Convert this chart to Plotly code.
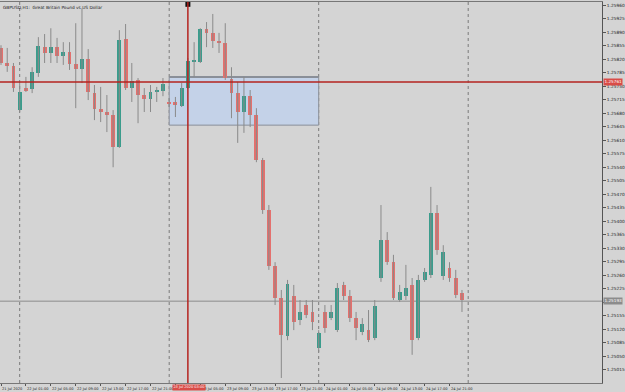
import plotly.graph_objects as go

# ---- data (GBPUSD H1, bars from 21 Jul 21:00) ----
opens = [1.25849,1.25810,1.25802,1.25688,1.25745,1.25743,1.25784,1.25851,1.25836,1.25851,
         1.25828,1.25838,1.25807,1.25794,1.25820,1.25732,1.25691,1.25683,1.25675,1.25592,
         1.25872,1.25745,1.25766,1.25727,1.25717,1.25735,1.25737,1.25709,1.25709,1.25698,
         1.25745,1.25815,1.25812,1.25898,1.25888,1.25867,1.25862,1.25768,1.25732,1.25683,
         1.25724,1.25675,1.25559,1.25429,1.25284,1.25201,1.25103,1.25207,1.25144,1.25183,
         1.25165,1.25072,1.25165,1.25149,1.25118,1.25235,1.25207,1.25149,1.25113,1.25118,
         1.25097,1.25253,1.25351,1.25294,1.25196,1.25207,1.25235,1.25097,1.25248,1.25261,
         1.25421,1.25258,1.25279,1.25253,1.25214]
highs = [1.25856,1.25849,1.25810,1.25758,1.25774,1.25799,1.25877,1.25885,1.25900,1.25875,
         1.25864,1.25864,1.25913,1.25952,1.25846,1.25753,1.25748,1.25727,1.25688,1.25895,
         1.25911,1.25810,1.25771,1.25745,1.25753,1.25748,1.25771,1.25719,1.25722,1.25758,
         1.25823,1.25864,1.25900,1.25916,1.25937,1.25888,1.25913,1.25799,1.25761,1.25774,
         1.25740,1.25693,1.25564,1.25442,1.25294,1.25222,1.25248,1.25235,1.25196,1.25196,
         1.25196,1.25118,1.25183,1.25183,1.25240,1.25243,1.25222,1.25165,1.25149,1.25170,
         1.25196,1.25442,1.25372,1.25313,1.25235,1.25287,1.25253,1.25261,1.25279,1.25489,
         1.25442,1.25338,1.25294,1.25274,1.25222]
lows  = [1.25805,1.25787,1.25735,1.25683,1.25735,1.25732,1.25774,1.25810,1.25810,1.25810,
         1.25805,1.25792,1.25693,1.25758,1.25714,1.25662,1.25657,1.25631,1.25540,1.25590,
         1.25740,1.25709,1.25654,1.25683,1.25683,1.25709,1.25724,1.25696,1.25670,1.25696,
         1.25743,1.25774,1.25810,1.25851,1.25849,1.25836,1.25766,1.25667,1.25603,1.25629,
         1.25644,1.25553,1.25419,1.25274,1.25183,1.24994,1.25092,1.25118,1.25131,1.25149,
         1.25118,1.25061,1.25111,1.25144,1.25113,1.25196,1.25139,1.25092,1.25105,1.25087,
         1.25092,1.25243,1.25287,1.25196,1.25191,1.25196,1.25054,1.25092,1.25243,1.25253,
         1.25313,1.25248,1.25243,1.25201,1.25165]
closes = [1.25810,1.25802,1.25745,1.25735,1.25740,1.25787,1.25854,1.25836,1.25851,1.25828,
          1.25838,1.25807,1.25794,1.25820,1.25735,1.25691,1.25683,1.25675,1.25592,1.25869,
          1.25745,1.25763,1.25727,1.25717,1.25735,1.25737,1.25755,1.25704,1.25701,1.25745,
          1.25815,1.25816,1.25898,1.25888,1.25867,1.25862,1.25771,1.25732,1.25683,1.25724,
          1.25675,1.25559,1.25429,1.25284,1.25201,1.25105,1.25237,1.25139,1.25165,1.25157,
          1.25139,1.25111,1.25123,1.25165,1.25227,1.25207,1.25149,1.25123,1.25134,1.25092,
          1.25180,1.25351,1.25294,1.25201,1.25217,1.25227,1.25092,1.25248,1.25269,1.25421,
          1.25325,1.25320,1.25253,1.25209,1.25196]

# time labels every 4 bars (the 23 Jul 01:00 one sits under the crosshair label)
time_labels = ["21 Jul 2020","22 Jul 01:00","22 Jul 05:00","22 Jul 09:00","22 Jul 13:00",
               "22 Jul 17:00","22 Jul 21:00","","23 Jul 05:00","23 Jul 09:00",
               "23 Jul 13:00","23 Jul 17:00","23 Jul 21:00","24 Jul 01:00","24 Jul 05:00",
               "24 Jul 09:00","24 Jul 13:00","24 Jul 17:00","24 Jul 21:00"]
label_bars = list(range(0, 75, 4))

price_ticks = [1.25960,1.25925,1.25890,1.25855,1.25820,1.25785,1.25750,1.25715,1.25680,1.25645,
               1.25610,1.25575,1.25540,1.25505,1.25470,1.25435,1.25400,1.25365,1.25330,1.25295,
               1.25260,1.25225,1.25190,1.25155,1.25120,1.25085,1.25050,1.25015]
# labels hidden under the highlighted price boxes are left blank
price_tick_text = ["1.25960","1.25925","1.25890","1.25855","1.25820","1.25785","1.25750","1.25715",
                   "1.25680","1.25645","1.25610","1.25575","1.25540","1.25505","1.25470","1.25435",
                   "1.25400","1.25365","1.25330","1.25295","1.25260","1.25225","","1.25155",
                   "1.25120","1.25085","1.25050","1.25015"]

day_separators = [3, 27, 51, 75]
crosshair_bar = 30
crosshair_label = "23 Jul 2020 03:00"
crosshair_price = 1.25761
current_price = 1.25193
box_bars = [27, 51]
box_prices = [1.25649, 1.25774]
title_text = "GBPUSD,H1:  Great Britain Pound vs US Dollar"

BULL = "#3a9c8c"
BEAR = "#e4706d"
WICK = "#8a8a8a"
BG = "#d4d4d4"
FONT = "DejaVu Sans"

idx = list(range(len(opens)))

fig = go.Figure()

shapes = []
for b in day_separators:
    shapes.append(dict(type="line", xref="x", yref="paper", x0=b, x1=b, y0=0, y1=1,
                       line=dict(color="#7a7a7a", width=1, dash="dot"), layer="below"))
shapes.append(dict(type="rect", xref="x", yref="y", x0=box_bars[0], x1=box_bars[1],
                   y0=box_prices[0], y1=box_prices[1],
                   fillcolor="#c4d2e8", line=dict(color="#8a8f98", width=1), layer="below"))
shapes.append(dict(type="line", xref="x", yref="y", x0=box_bars[0], x1=box_bars[1],
                   y0=box_prices[1], y1=box_prices[1],
                   line=dict(color="#8a8f98", width=2), layer="below"))
shapes.append(dict(type="line", xref="paper", yref="y", x0=0, x1=1, y0=current_price, y1=current_price,
                   line=dict(color="#8c8c8c", width=1), layer="below"))

wx, wy = [], []
for i in idx:
    wx += [i, i, None]
    wy += [highs[i], lows[i], None]
fig.add_trace(go.Scatter(x=wx, y=wy, mode="lines", line=dict(color=WICK, width=1),
                         hoverinfo="skip", showlegend=False))

base = [min(o, c) for o, c in zip(opens, closes)]
height = [max(abs(c - o), 0.00003) for o, c in zip(opens, closes)]
colors = [BULL if c >= o else BEAR for o, c in zip(opens, closes)]
fig.add_trace(go.Bar(x=idx, base=base, y=height, width=0.62, marker=dict(color=colors, line=dict(width=0)),
                     showlegend=False, hoverinfo="skip"))

shapes.append(dict(type="line", xref="paper", yref="y", x0=0, x1=1, y0=crosshair_price, y1=crosshair_price,
                   line=dict(color="#b5231f", width=1.5)))
shapes.append(dict(type="line", xref="x", yref="paper", x0=crosshair_bar, x1=crosshair_bar, y0=0, y1=1,
                   line=dict(color="#b5231f", width=1.5)))
fig.add_trace(go.Scatter(x=[crosshair_bar], y=[1.25962], mode="markers",
                         marker=dict(symbol="square", size=5, color="#111"), cliponaxis=False,
                         showlegend=False, hoverinfo="skip"))

annotations = []
for b, t in zip(label_bars, time_labels):
    if not t:
        continue
    annotations.append(dict(x=b - 0.1, y=0, xref="x", yref="paper", text=t, showarrow=False,
                            xanchor="left", yanchor="top", yshift=-1.5,
                            font=dict(family=FONT, size=3.6, color="#222")))
annotations.append(dict(x=crosshair_bar + 0.15, y=0, xref="x", yref="paper", text=crosshair_label,
                        showarrow=False, xanchor="center", yanchor="top", yshift=-1,
                        bgcolor="#d94c48", borderpad=0.4,
                        font=dict(family=FONT, size=3.5, color="#fff")))
annotations.append(dict(x=1, y=crosshair_price, xref="paper", yref="y", text="%.5f" % crosshair_price,
                        showarrow=False, xanchor="left", yanchor="middle", xshift=1,
                        bgcolor="#d94c48", borderpad=0.4,
                        font=dict(family=FONT, size=4.2, color="#fff")))
annotations.append(dict(x=1, y=current_price, xref="paper", yref="y", text="%.5f" % current_price,
                        showarrow=False, xanchor="left", yanchor="middle", xshift=1,
                        bgcolor="#8c8c8c", borderpad=0.4,
                        font=dict(family=FONT, size=4.2, color="#fff")))
annotations.append(dict(x=0, y=1, xref="paper", yref="paper", text=title_text, showarrow=False,
                        xanchor="left", yanchor="top", xshift=1, yshift=-1,
                        font=dict(family=FONT, size=4.3, color="#222")))

fig.update_layout(
    width=625, height=392,
    margin=dict(l=0, r=21, t=2, b=9),
    paper_bgcolor=BG, plot_bgcolor=BG,
    shapes=shapes, annotations=annotations,
    bargap=0, showlegend=False,
    xaxis=dict(range=[-0.16, 96.48], showgrid=False, zeroline=False,
               tickvals=label_bars, ticks="outside", ticklen=2, tickcolor="#555",
               showticklabels=False, showline=True, mirror=True, linecolor="#777", linewidth=1,
               fixedrange=True),
    yaxis=dict(range=[1.24981, 1.25968], side="right", showgrid=False, zeroline=False,
               tickvals=price_ticks, ticktext=price_tick_text, ticks="outside", ticklen=3,
               tickcolor="#555", showline=True, linecolor="#555", linewidth=1,
               tickfont=dict(family=FONT, size=4.3, color="#222"), fixedrange=True),
)

fig.write_html("out.html")
